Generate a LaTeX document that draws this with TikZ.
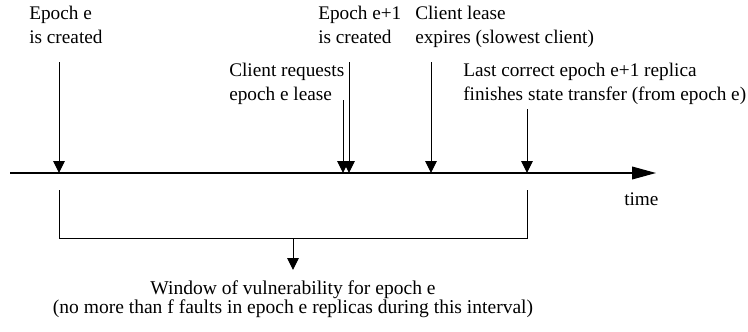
\documentclass[tikz,border=0pt]{standalone}
\usepackage{fontspec}
\setmainfont{Liberation Serif}
\usetikzlibrary{arrows.meta}
\tikzset{
  lbl/.style={anchor=base west,inner sep=0pt,align=left,font=\fontsize{13.7}{16.4}\selectfont},
  evt/.style={line width=0.7pt,-{Triangle[width=0.29cm,length=0.3cm]}},
}
\begin{document}
\begin{tikzpicture}
\useasboundingbox (0,0) rectangle (18.7,8.275);
% time axis
\coordinate (t0) at (0.25,3.95);
\coordinate (t1) at (16.4,3.95);
\draw[line width=0.8pt,-{Triangle[width=0.32cm,length=0.6cm]}] (t0) -- (t1);
\node[lbl] (timeLbl) at (15.6,3.15) {time};
% events (base = last line)
\node[lbl] (epochE) at (0.725,7.2) {Epoch e\\is created};
\node[lbl] (epochNext) at (7.95,7.2) {Epoch e+1\\is created};
\node[lbl] (leaseExp) at (10.375,7.2) {Client lease\\expires (slowest client)};
\node[lbl] (clientReq) at (5.725,5.775) {Client requests\\epoch e lease};
\node[lbl] (lastXfer) at (11.575,5.775) {Last correct epoch e+1 replica\\finishes state transfer (from epoch e)};
\foreach \n/\x/\y in {a/1.475/6.725,b/8.575/5.775,c/8.725/6.725,d/10.775/6.725,e/13.175/5.55}
{
	\coordinate (top\n) at (\x,\y);
	\coordinate (hit\n) at (\x,3.95);
	\draw[evt] (top\n) -- (hit\n);
}
% window bracket
\coordinate (wL) at (1.475,3.525);
\coordinate (wLb) at (1.475,2.325);
\coordinate (wR) at (13.175,3.525);
\coordinate (wRb) at (13.175,2.325);
\draw[line width=0.7pt] (wL) -- (wLb) -- (wRb) -- (wR);
\node[lbl,anchor=base,align=center,font=\fontsize{13.9}{13.3}\selectfont] (window) at (7.325,0.45)
	{Window of vulnerability for epoch e\\(no more than f faults in epoch e replicas during this interval)};
\coordinate (wMid) at (7.325,2.325);
\coordinate (wTip) at (7.325,1.525);
\draw[evt] (wMid) -- (wTip);
\end{tikzpicture}
\end{document}
